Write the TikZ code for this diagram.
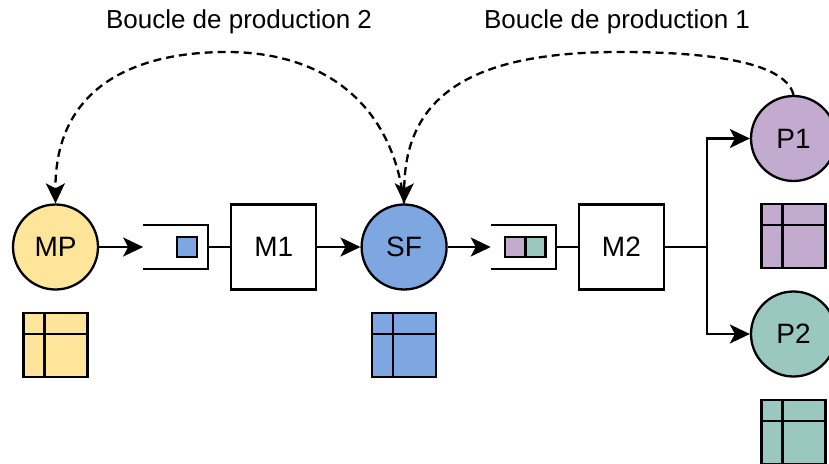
\documentclass[tikz,border=0pt]{standalone}
\usepackage{fontspec}
\setmainfont{Liberation Sans}
\usetikzlibrary{positioning,arrows.meta}
\definecolor{jauneMP}{HTML}{FFE599}
\definecolor{bleuSF}{HTML}{7EA6E0}
\definecolor{violetP1}{HTML}{C3ABD0}
\definecolor{vertP2}{HTML}{9AC7BF}

\begin{document}
\begin{tikzpicture}[x=1pt, y=-1pt, line width=2.3pt, >={Stealth[length=20pt,width=19pt,inset=5pt]},
  font=\fontsize{26}{30}\selectfont,
  etat/.style={draw, circle, minimum size=85pt, inner sep=0pt, font=\fontsize{28}{32}\selectfont},
  machine/.style={draw, rectangle, minimum width=85pt, minimum height=85pt, inner sep=0pt, font=\fontsize{28}{32}\selectfont},
  stock/.style={rectangle, minimum width=65pt, minimum height=44pt, inner sep=0pt, outer sep=0pt},
  piece/.style={draw, rectangle, minimum size=20pt, inner sep=0pt},
  tableau/.style={draw, rectangle, minimum size=64pt, inner sep=0pt, path picture={
      \draw ([xshift=21pt]path picture bounding box.north west) -- ([xshift=21pt]path picture bounding box.south west);
      \draw ([yshift=-21pt]path picture bounding box.north west) -- ([yshift=-21pt]path picture bounding box.north east);}},
  boucle/.style={dash pattern=on 8pt off 5pt}]
\useasboundingbox (0,0) rectangle (829,463);

% flux principal
\node (MP) [etat, fill=jauneMP] at (55.5,247) {MP};
\node (Q1) [stock, right=44pt of MP] {};
\node (M1) [machine, right=22pt of Q1] {M1};
\node (SF) [etat, fill=bleuSF, right=43pt of M1] {SF};
\node (Q2) [stock, right=43pt of SF] {};
\node (M2) [machine, right=22pt of Q2] {M2};
\node (P1) [etat, fill=violetP1] at (793.5,138.5) {P1};
\node (P2) [etat, fill=vertP2] at (793.5,334) {P2};
\coordinate (J) at (707,247);

% pieces en stock
\node (b1) [piece, fill=bleuSF, left=10pt of Q1.east] {};
\node (t2) [piece, fill=vertP2, left=9pt of Q2.east] {};
\node (v2) [piece, fill=violetP1, left=-2pt of t2] {};

% tableaux
\node (tMP) [tableau, fill=jauneMP, below=21pt of MP] {};
\node (tSF) [tableau, fill=bleuSF, below=21pt of SF] {};
\node (tP1) [tableau, fill=violetP1, below=21pt of P1] {};
\node (tP2) [tableau, fill=vertP2, below=21pt of P2] {};

\draw[->] (MP) -- (Q1.west);
\draw (Q1.north west) -- (Q1.north east) -- (Q1.south east) -- (Q1.south west);
\draw (Q1.east) -- (M1);
\draw[->] (M1) -- (SF);
\draw[->] (SF) -- (Q2.west);
\draw (Q2.north west) -- (Q2.north east) -- (Q2.south east) -- (Q2.south west);
\draw (Q2.east) -- (M2);
\draw (M2) -- (J);
\draw[->] (J) |- (P1.west);
\draw[->] (J) |- (P2.west);

% boucles
\node (lb2) at (239,22) {Boucle de production 2};
\node (lb1) at (617,22) {Boucle de production 1};
\draw[->, boucle] (SF.north) .. controls (392,100) and (320,52) .. (227,52) .. controls (130,52) and (55,90) .. (MP.north);
\draw[->, boucle] (P1.north) .. controls (785,60) and (700,52) .. (620,52) .. controls (480,52) and (405,90) .. (SF.north);
\end{tikzpicture}
\end{document}
